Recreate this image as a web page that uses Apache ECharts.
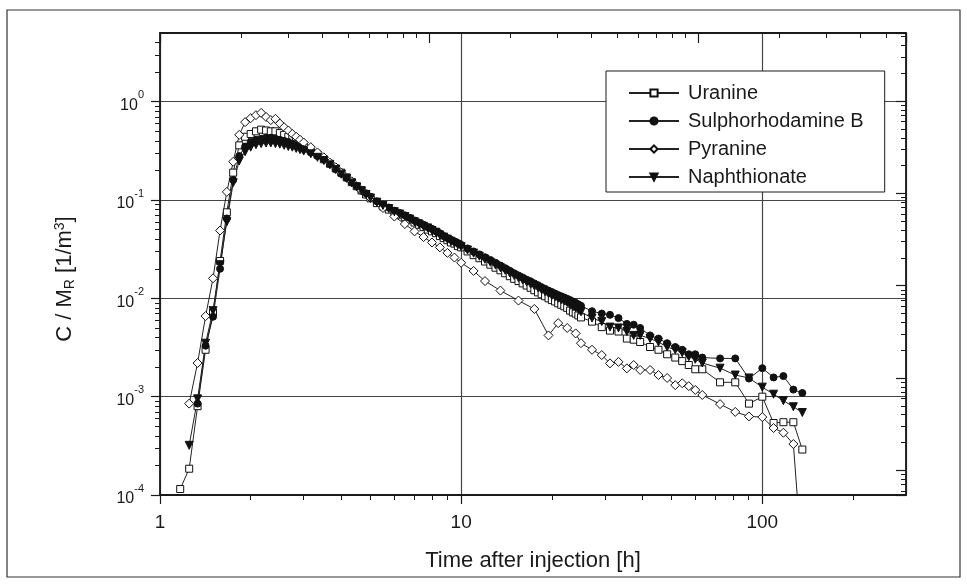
<!DOCTYPE html>
<html><head><meta charset="utf-8">
<script src="https://cdn.jsdelivr.net/npm/echarts@6/dist/echarts.min.js"></script>
<style>html,body{margin:0;padding:0;background:#fff}#c{width:967px;height:585px}</style>
</head><body><div id="c"></div>
<script>
// ---- data (time after injection [h], C/MR [1/m3]) ----
const timeH = [
1.167, 1.25, 1.333, 1.417, 1.5, 1.583, 1.667, 1.75, 1.833, 1.917,
2.0, 2.083, 2.167, 2.25, 2.333, 2.417, 2.5, 2.583, 2.667, 2.75,
2.833, 2.917, 3.0, 3.167, 3.333, 3.5, 3.667, 3.833, 4.0, 4.167,
4.333, 4.5, 4.667, 4.833, 5.0, 5.25, 5.5, 5.75, 6.0, 6.25,
6.5, 6.75, 7.0, 7.25, 7.5, 7.75, 8.0, 8.25, 8.5, 8.75,
9.0, 9.25, 9.5, 9.75, 10.0, 10.5, 11.0, 11.5, 12.0, 12.5,
13.0, 13.5, 14.0, 14.5, 15.0, 15.5, 16.0, 16.5, 17.0, 17.5,
18.0, 18.5, 19.0, 19.5, 20.0, 20.5, 21.0, 21.5, 22.0, 22.5,
23.0, 23.5, 24.0, 24.5, 25.0, 27.2, 29.3, 31.2, 33.3, 35.5,
37.4, 39.3, 42.4, 45.2, 48.3, 51.4, 54.2, 57.0, 59.9, 63.2,
72.4, 81.3, 90.3, 100, 109, 117.5, 126.8, 135.8
];
const uranine = [
1.15e-4, 1.85e-4, 8.0e-4, 3.0e-3, 7.2e-3, 0.024, 0.075, 0.19, 0.36, 0.44,
0.47, 0.50, 0.52, 0.51, 0.50, 0.50, 0.48, 0.46, 0.44, 0.42,
0.40, 0.38, 0.36, 0.32, 0.29, 0.26, 0.234, 0.21, 0.19, 0.17,
0.152, 0.138, 0.125, 0.114, 0.104, 0.093, 0.086, 0.080, 0.075, 0.071,
0.067, 0.063, 0.059, 0.056, 0.053, 0.050, 0.048, 0.046, 0.043, 0.041,
0.039, 0.037, 0.036, 0.034, 0.033, 0.030, 0.0275, 0.0256, 0.0237, 0.0220,
0.0205, 0.0193, 0.0180, 0.0168, 0.0158, 0.0150, 0.0142, 0.0135, 0.0128, 0.0121,
0.0115, 0.0110, 0.0105, 0.0100, 0.0096, 0.0093, 0.0089, 0.0086, 0.0083, 0.0080,
0.0075, 0.0072, 0.0070, 0.0067, 0.0064, 0.0058, 0.0051, 0.0047, 0.0046, 0.0039,
0.0038, 0.0036, 0.0032, 0.0030, 0.0027, 0.0025, 0.0023, 0.0021, 0.0019, 0.0019,
0.0014, 0.0014, 0.00085, 0.0010, 0.00054, 0.00055, 0.00055, 0.00029
];
const sulphorhodamineB = [
null, null, 8.5e-4, 3.3e-3, 6.5e-3, 0.020, 0.065, 0.16, 0.28, 0.35,
0.39, 0.41, 0.42, 0.43, 0.43, 0.42, 0.41, 0.40, 0.39, 0.375,
0.36, 0.345, 0.33, 0.305, 0.28, 0.258, 0.232, 0.206, 0.185, 0.168,
0.151, 0.138, 0.127, 0.117, 0.108, 0.097, 0.090, 0.084, 0.078, 0.074,
0.070, 0.066, 0.062, 0.059, 0.056, 0.053, 0.051, 0.048, 0.046, 0.043,
0.041, 0.0395, 0.038, 0.0365, 0.035, 0.0322, 0.0300, 0.0280, 0.0262, 0.0246,
0.0230, 0.0216, 0.0203, 0.0191, 0.0180, 0.0171, 0.0163, 0.0155, 0.0149, 0.0142,
0.0136, 0.0130, 0.0125, 0.0120, 0.0116, 0.0112, 0.0108, 0.0105, 0.0102, 0.0099,
0.0096, 0.0093, 0.0090, 0.0087, 0.0084, 0.0074, 0.0070, 0.0068, 0.0063, 0.0055,
0.0054, 0.0050, 0.0042, 0.0039, 0.0035, 0.0032, 0.0030, 0.0027, 0.0027, 0.0025,
0.00245, 0.00245, 0.00153, 0.00195, 0.00157, 0.00162, 0.00118, 0.00109
];
const pyranine = [
null, 8.5e-4, 2.2e-3, 6.6e-3, 0.016, 0.049, 0.121, 0.245, 0.46, 0.62,
0.68, 0.73, 0.77, 0.70, 0.65, 0.67, 0.60, 0.55, 0.51, 0.47,
0.44, 0.41, 0.385, 0.345, 0.305, 0.272, 0.24, 0.215, 0.19, null,
0.155, null, 0.125, null, 0.105, null, 0.083, null, 0.068, null,
0.057, null, 0.048, null, 0.042, null, 0.037, null, 0.033, null,
0.029, null, 0.026, null, 0.023, null, 0.019, null, 0.015, null,
null, 0.012, null, null, null, 0.0095, null, null, null, 0.0078,
null, null, null, 0.0042, null, null, 0.0056, null, null, 0.0050,
null, null, 0.0044, null, 0.0035, 0.0030, 0.00265, 0.00218, 0.00226, 0.00194,
0.0021, 0.00187, 0.00187, 0.00166, 0.00155, 0.00131, 0.00137, 0.00128, 0.00117, 0.00104,
0.00084, 0.00070, 0.00063, 0.00062, 0.00048, 0.00043, 0.00033, 0.00002
];
const naphthionate = [
null, 3.2e-4, 9.5e-4, 3.5e-3, 7.5e-3, 0.022, 0.060, 0.15, 0.25, 0.31,
0.345, 0.365, 0.375, 0.38, 0.38, 0.375, 0.37, 0.36, 0.35, 0.345,
0.335, 0.325, 0.315, 0.295, 0.272, 0.252, 0.228, 0.204, 0.183, 0.166,
0.149, 0.136, 0.124, 0.114, 0.105, 0.095, 0.088, 0.082, 0.076, 0.072,
0.068, 0.064, 0.060, 0.057, 0.054, 0.052, 0.049, 0.047, 0.044, 0.042,
0.040, 0.038, 0.0365, 0.035, 0.0335, 0.031, 0.0288, 0.0268, 0.0250, 0.0233,
0.0218, 0.0205, 0.0193, 0.0181, 0.0171, 0.0162, 0.0154, 0.0147, 0.0140, 0.0134,
0.0128, 0.0122, 0.0117, 0.0112, 0.0107, 0.0104, 0.0100, 0.0097, 0.0094, 0.0091,
0.0086, 0.0083, 0.0080, 0.0077, 0.0073, 0.0063, 0.0058, 0.0051, 0.0050, 0.0046,
0.0042, 0.0042, 0.0039, 0.0036, 0.0032, 0.0030, 0.0028, 0.00255, 0.0024, 0.0022,
0.00195, 0.00166, 0.00155, 0.00125, 0.00106, 0.00091, 0.00079, 0.00069
];
const seriesNames = ['Uranine', 'Sulphorhodamine B', 'Pyranine', 'Naphthionate'];
const xAxisTitle = 'Time after injection [h]';
const yAxisTitle = 'C / M{sub|R} [1/m{sup|3}]';

// axis ranges (the scanned frame's top/right scales differ slightly from bottom/left)
const X_MIN = 1, X_MAX = 300, Y_MIN = 1e-4, Y_MAX = 5;
const TOP_X_MAX = 593, RIGHT_Y_MIN = 5.4e-5, RIGHT_Y_MAX = 5.46;

const FONT = "'Liberation Sans', Arial, sans-serif";
const INK = '#1a1a1a';
const GRID = { left: 160, right: 61, top: 33, bottom: 90 };

function pairs(vals) {
  const out = [];
  timeH.forEach((t, i) => { if (vals[i] != null) out.push([t, vals[i]]); });
  return out;
}
function minors(lo, hi) {
  const v = [];
  for (let e = Math.floor(Math.log10(lo)) - 1; e <= Math.ceil(Math.log10(hi)); e++)
    for (let m = 2; m <= 9; m++) {
      const x = m * Math.pow(10, e);
      if (x > lo * 1.0001 && x < hi * 0.9999) v.push(x);
    }
  return v;
}

const lineStyle = { color: '#222', width: 1 };
const styles = [
  { symbol: 'rect', symbolSize: 7, itemStyle: { color: '#fff', borderColor: '#111', borderWidth: 1 } },
  { symbol: 'circle', symbolSize: 7, itemStyle: { color: '#111', borderColor: '#111', borderWidth: 1 } },
  { symbol: 'diamond', symbolSize: 9, itemStyle: { color: '#fff', borderColor: '#111', borderWidth: 1 } },
  { symbol: 'triangle', symbolSize: 8, symbolRotate: 180, itemStyle: { color: '#111', borderColor: '#111', borderWidth: 1 } }
];
const valueSets = [uranine, sulphorhodamineB, pyranine, naphthionate];

const series = seriesNames.map((name, i) => Object.assign({
  name: name, type: 'line', xAxisIndex: 0, yAxisIndex: 0,
  data: pairs(valueSets[i]), showAllSymbol: true, clip: true,
  lineStyle: lineStyle, emphasis: { disabled: true }
}, styles[i]));

const axisLineStyle = { show: true, onZero: false, lineStyle: { color: INK, width: 1.8 } };
const gridLine = { show: true, lineStyle: { color: '#444', width: 1.2 } };
const tickLine = { color: INK, width: 1.2 };
const minorTickLine = { color: INK, width: 1 };

// helper axes that only carry the log 2..9 minor ticks
function minorAxis(pos, min, max, inside) {
  return { type: 'log', logBase: 10, min: min, max: max, position: pos,
    axisLine: { show: false }, axisLabel: { show: false }, splitLine: { show: false },
    axisTick: { show: true, inside: inside, length: 5, customValues: minors(min, max), lineStyle: minorTickLine } };
}

const chart = echarts.init(document.getElementById('c'), null, { renderer: 'canvas' });
chart.setOption({
  animation: false,
  backgroundColor: '#fff',
  textStyle: { fontFamily: FONT, color: INK },
  grid: GRID,
  legend: {
    data: seriesNames, orient: 'vertical', left: 606, top: 71,
    padding: [12, 21, 5, 22], itemGap: 8, itemWidth: 50, itemHeight: 9,
    backgroundColor: '#fff', borderColor: INK, borderWidth: 1,
    textStyle: { fontSize: 20, color: INK, fontFamily: FONT, padding: [0, 0, 0, 4] }
  },
  xAxis: [
    { type: 'log', logBase: 10, min: X_MIN, max: X_MAX, position: 'bottom',
      axisLine: axisLineStyle,
      axisTick: { show: true, inside: false, length: 9, lineStyle: tickLine },
      axisLabel: { fontSize: 19, color: INK, fontFamily: FONT, margin: 18, showMaxLabel: false,
                   formatter: v => String(Math.round(v)) },
      splitLine: gridLine,
      name: xAxisTitle, nameLocation: 'middle', nameGap: 55,
      nameTextStyle: { fontSize: 22, color: INK, fontFamily: FONT } },
    { type: 'log', logBase: 10, min: X_MIN, max: TOP_X_MAX, position: 'top',
      axisLine: axisLineStyle,
      axisTick: { show: true, inside: true, length: 10, lineStyle: tickLine },
      axisLabel: { show: false }, splitLine: { show: false } },
    minorAxis('bottom', X_MIN, X_MAX, false),
    minorAxis('top', X_MIN, TOP_X_MAX, true)
  ],
  yAxis: [
    { type: 'log', logBase: 10, min: Y_MIN, max: Y_MAX, position: 'left',
      axisLine: axisLineStyle,
      axisTick: { show: true, inside: false, length: 9, lineStyle: tickLine },
      axisLabel: { margin: 16, showMaxLabel: false, fontFamily: FONT,
        formatter: v => '{b|10}{e|' + Math.round(Math.log10(v)) + '}',
        rich: { b: { fontSize: 16, lineHeight: 24, verticalAlign: 'bottom', color: INK, fontFamily: FONT },
                e: { fontSize: 11, lineHeight: 12, verticalAlign: 'top', color: INK, fontFamily: FONT } } },
      splitLine: gridLine,
      name: yAxisTitle, nameLocation: 'middle', nameGap: 83, nameRotate: 90,
      nameTextStyle: { fontSize: 22, color: INK, fontFamily: FONT, lineHeight: 24, padding: [0, 30, 0, 0],
        rich: { sub: { fontSize: 14, lineHeight: 14, verticalAlign: 'bottom', color: INK, fontFamily: FONT },
                sup: { fontSize: 14, lineHeight: 14, verticalAlign: 'top', color: INK, fontFamily: FONT } } } },
    { type: 'log', logBase: 10, min: RIGHT_Y_MIN, max: RIGHT_Y_MAX, position: 'right',
      axisLine: axisLineStyle,
      axisTick: { show: true, inside: true, length: 10, lineStyle: tickLine },
      axisLabel: { show: false }, splitLine: { show: false } },
    minorAxis('left', Y_MIN, Y_MAX, false),
    minorAxis('right', RIGHT_Y_MIN, RIGHT_Y_MAX, true)
  ],
  graphic: [
    { type: 'rect', shape: { x: 7, y: 10, width: 953, height: 567 }, silent: true,
      style: { fill: 'none', stroke: '#333', lineWidth: 1.2 }, z: -1 }
  ],
  series: series
});
</script>
</body></html>
